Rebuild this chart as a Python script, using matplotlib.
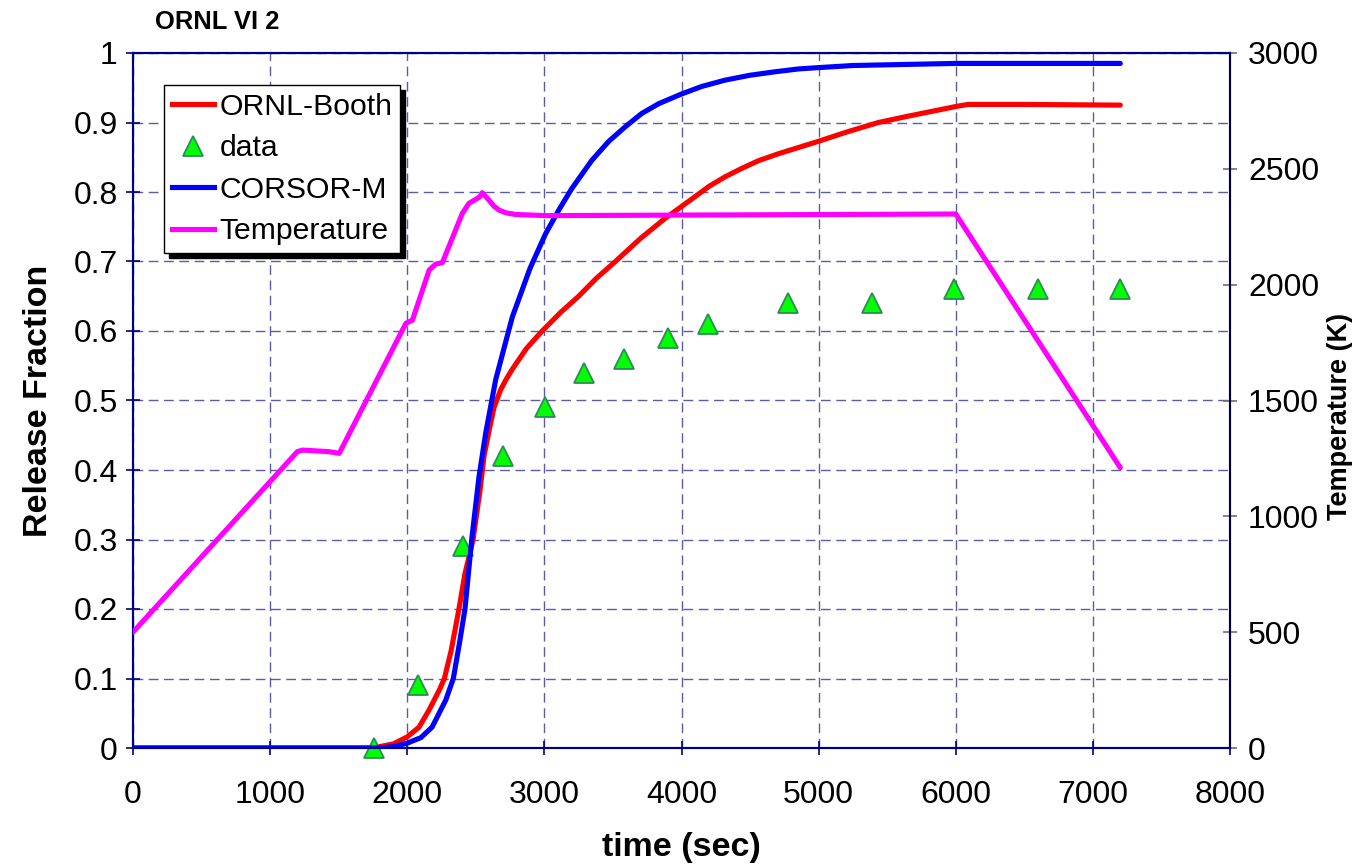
import matplotlib
matplotlib.use("Agg")
import matplotlib.pyplot as plt
from matplotlib.ticker import MultipleLocator, FuncFormatter
from matplotlib.lines import Line2D

plt.rcParams['font.family'] = ['Liberation Sans', 'DejaVu Sans']

# ---- data ----
booth_t = [0, 1750, 1900, 2000, 2086, 2160, 2233, 2271, 2320, 2377, 2420, 2480, 2530, 2560, 2600, 2633,
           2680, 2720, 2766, 2870, 2984, 3120, 3250, 3380, 3518, 3700, 3880, 4076, 4200, 4319, 4440,
           4561, 4706, 5000, 5200, 5436, 5650, 5850, 6000, 6089, 6500, 7200]
booth_y = [0, 0, 0.006, 0.016, 0.03, 0.055, 0.083, 0.1, 0.14, 0.2, 0.25, 0.3, 0.37, 0.42, 0.46, 0.49,
           0.515, 0.53, 0.545, 0.575, 0.6, 0.627, 0.65, 0.676, 0.7, 0.733, 0.762, 0.79, 0.808, 0.822, 0.834,
           0.845, 0.855, 0.873, 0.886, 0.9, 0.909, 0.917, 0.923, 0.926, 0.926, 0.925]

corsor_t = [0, 1800, 1900, 2000, 2100, 2181, 2281, 2336, 2380, 2421, 2470, 2523, 2572, 2645, 2766,
            2895, 3009, 3105, 3200, 3348, 3470, 3591, 3710, 3833, 4000, 4150, 4319, 4500, 4683, 4850,
            5000, 5250, 5500, 6000, 7200]
corsor_y = [0, 0, 0.002, 0.007, 0.015, 0.03, 0.069, 0.1, 0.15, 0.2, 0.3, 0.39, 0.453, 0.53, 0.62,
            0.69, 0.74, 0.774, 0.805, 0.846, 0.873, 0.894, 0.913, 0.927, 0.941, 0.952, 0.961, 0.968, 0.973, 0.977,
            0.979, 0.982, 0.983, 0.985, 0.985]

data_t = [1760, 2080, 2407, 2698, 3003, 3287, 3578, 3898, 4190, 4780, 5391, 5988, 6600, 7197]
data_y = [0, 0.09, 0.29, 0.42, 0.49, 0.54, 0.56, 0.59, 0.61, 0.64, 0.64, 0.66, 0.66, 0.66]

temp_t = [0, 1200, 1240, 1430, 1504, 1990, 2038, 2160, 2208, 2256, 2402, 2450, 2499, 2530, 2547,
          2570, 2596, 2630, 2669, 2720, 2790, 3009, 6000, 7200]
temp_K = [500, 1280, 1286, 1279, 1272, 1833, 1847, 2063, 2089, 2095, 2308, 2351, 2368, 2380, 2397,
          2382, 2365, 2340, 2322, 2310, 2303, 2298, 2305, 1210]

x_ticks = list(range(0, 8001, 1000))
navy = '#000080'
grid_c = '#5b5ba8'
LW = 3.7

fig = plt.figure(figsize=(13.57, 8.68), dpi=100)
ax = fig.add_axes([133/1357, 1-748/868, (1230-133)/1357, (748-53)/868])
ax2 = ax.twinx()

ax.plot(booth_t, booth_y, color='#ff0000', lw=LW, solid_capstyle='round', solid_joinstyle='round', zorder=3)
ax.plot(data_t, data_y, ls='none', marker='^', ms=14.5, mfc='#00ff00', mec='#2e8b57', mew=1.3, zorder=4, clip_on=False)
ax.plot(corsor_t, corsor_y, color='#0000ff', lw=LW, solid_capstyle='round', solid_joinstyle='round', zorder=5)
ax2.plot(temp_t, temp_K, color='#ff00ff', lw=LW, solid_capstyle='round', solid_joinstyle='round', zorder=3)

ax.set_xlim(0, 8000)
ax.set_ylim(0, 1)
ax2.set_ylim(0, 3000)
ax.set_xticks(x_ticks)
ax.yaxis.set_major_locator(MultipleLocator(0.1))
ax2.yaxis.set_major_locator(MultipleLocator(500))
ax.yaxis.set_major_formatter(FuncFormatter(lambda v, p: '%g' % round(v, 2)))

ax.grid(True, color=grid_c, ls=(0, (7, 4)), lw=1.0)
ax.set_axisbelow(True)

for a in (ax, ax2):
    for s in a.spines.values():
        s.set_color(navy)
        s.set_linewidth(1.5)
ax2.spines['right'].set_color('#000040')

ax.tick_params(axis='both', direction='inout', length=10, width=1.2, color=navy, labelsize=23)
ax.tick_params(axis='y', pad=6)
ax.tick_params(axis='x', pad=18)
ax2.tick_params(axis='y', direction='inout', length=10, width=1.2, color='#707070', labelsize=23, pad=8)

ax.set_xlabel('time (sec)', fontsize=24.5, fontweight='bold', labelpad=16)
ax.set_ylabel('Release Fraction', fontsize=24.5, fontweight='bold', labelpad=14)
ax2.set_ylabel('Temperature (K)', fontsize=19.5, fontweight='bold')
ax2.yaxis.set_label_coords((1327-133)/1097, (748-416)/695)

fig.text(155/1357, 1-22/868, 'ORNL VI 2', fontsize=18.4, fontweight='bold', ha='left', va='center')

handles = [Line2D([], [], color='#ff0000', lw=LW),
           Line2D([], [], ls='none', marker='^', ms=14.5, mfc='#00ff00', mec='#2e8b57', mew=1.3),
           Line2D([], [], color='#0000ff', lw=LW),
           Line2D([], [], color='#ff00ff', lw=LW)]
labels = ['ORNL-Booth', 'data', 'CORSOR-M', 'Temperature']
leg = ax2.legend(handles, labels, loc='upper left', bbox_to_anchor=(164/1357, 1-85/868),
                 bbox_transform=fig.transFigure, borderaxespad=0, fontsize=21.7,
                 fancybox=False, edgecolor='black', framealpha=1,
                 shadow={'ox': 3.5, 'oy': -3.5, 'color': 'black', 'alpha': 1},
                 handlelength=1.4, handletextpad=0.2, labelspacing=0.45, borderpad=0.25)
leg.get_frame().set_linewidth(1.0)

fig.savefig('out.png', dpi=100)
